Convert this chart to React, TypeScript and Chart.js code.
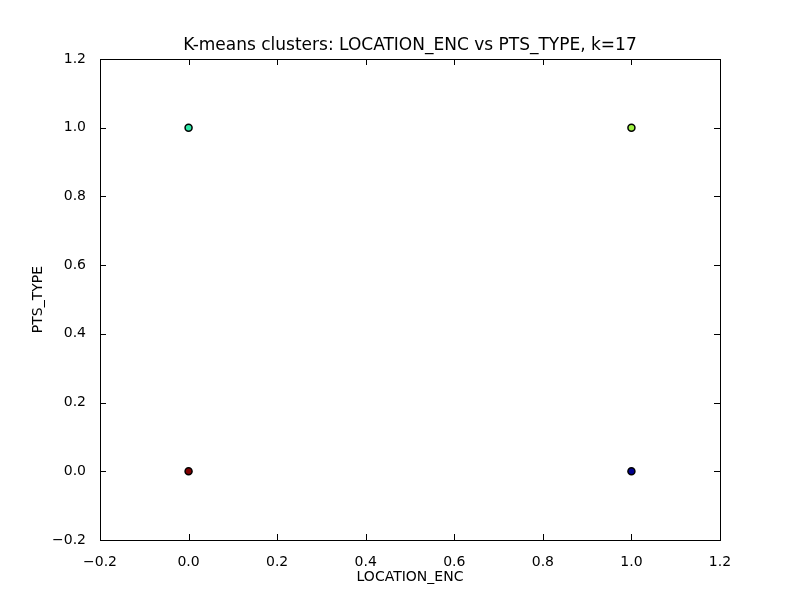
import React, { useEffect, useRef } from "react";
import { Chart, registerables } from "chart.js";

Chart.register(...registerables);

const locationEnc = [0, 1, 0, 1];
const ptsType = [1, 1, 0, 0];
const clusterColors = ["#2fe8a8", "#9cf040", "#800000", "#00008f"];
const tickValues = [-0.2, 0, 0.2, 0.4, 0.6, 0.8, 1.0, 1.2];
const chartTitle = "K-means clusters: LOCATION_ENC vs PTS_TYPE, k=17";

const fmt = (v: any) => Number(v).toFixed(1).replace("-", "\u2212");

const frameAndTicks = {
  id: "frameAndTicks",
  afterDraw(chart: any) {
    const { ctx, chartArea: a, scales } = chart;
    ctx.save();
    ctx.strokeStyle = "#000";
    ctx.lineWidth = 1;
    ctx.beginPath();
    for (const v of tickValues) {
      const x = Math.round(scales.x.getPixelForValue(v)) + 0.5;
      const y = Math.round(scales.y.getPixelForValue(v)) + 0.5;
      ctx.moveTo(x, a.bottom); ctx.lineTo(x, a.bottom - 6);
      ctx.moveTo(x, a.top); ctx.lineTo(x, a.top + 6);
      ctx.moveTo(a.left, y); ctx.lineTo(a.left + 6, y);
      ctx.moveTo(a.right, y); ctx.lineTo(a.right - 6, y);
    }
    ctx.stroke();
    ctx.strokeRect(a.left + 0.5, a.top + 0.5, a.right - a.left, a.bottom - a.top);
    ctx.fillStyle = "#000";
    ctx.font = "17px 'DejaVu Sans'";
    ctx.textAlign = "center";
    ctx.textBaseline = "bottom";
    ctx.fillText(chartTitle, (a.left + a.right) / 2, a.top - 5);
    ctx.restore();
  },
};

const App = () => {
  const canvasRef = useRef<HTMLCanvasElement | null>(null);

  useEffect(() => {
    if (!canvasRef.current) return;
    const ctx = canvasRef.current.getContext("2d");
    if (!ctx) return;
    const font = { family: "DejaVu Sans", size: 14 };
    const chart = new Chart(ctx, {
      type: "scatter",
      data: {
        datasets: [
          {
            data: locationEnc.map((x, i) => ({ x, y: ptsType[i] })),
            backgroundColor: clusterColors,
            borderColor: "#000",
            borderWidth: 1.5,
            pointRadius: 3.5,
          },
        ],
      },
      options: {
        animation: false,
        responsive: false,
        layout: { padding: { right: 80, top: 59 } },
        plugins: {
          legend: { display: false },
          tooltip: { enabled: false },
        },
        scales: {
          x: {
            min: -0.2,
            max: 1.2,
            afterFit: (s: any) => { s.height = 60; },
            afterBuildTicks: (s: any) => { s.ticks = tickValues.map((v) => ({ value: v })); },
            grid: { display: false },
            border: { display: false },
            ticks: { color: "#000", font, padding: 6, callback: fmt },
            title: { display: true, text: "LOCATION_ENC", color: "#000", font, padding: { top: 2, bottom: 14 } },
          },
          y: {
            min: -0.2,
            max: 1.2,
            afterFit: (s: any) => { s.width = 100; },
            afterBuildTicks: (s: any) => { s.ticks = tickValues.map((v) => ({ value: v })); },
            grid: { display: false },
            border: { display: false },
            ticks: { color: "#000", font, padding: 6, callback: fmt },
            title: { display: true, text: "PTS_TYPE", color: "#000", font, padding: { top: 30, bottom: 0 } },
          },
        },
      },
      plugins: [frameAndTicks],
    });
    return () => chart.destroy();
  }, []);

  return (
    <div style={{ position: "fixed", left: 0, top: 0, width: 800, height: 600, background: "#fff" }}>
      <canvas ref={canvasRef} width={800} height={600} />
    </div>
  );
};

export default App;
